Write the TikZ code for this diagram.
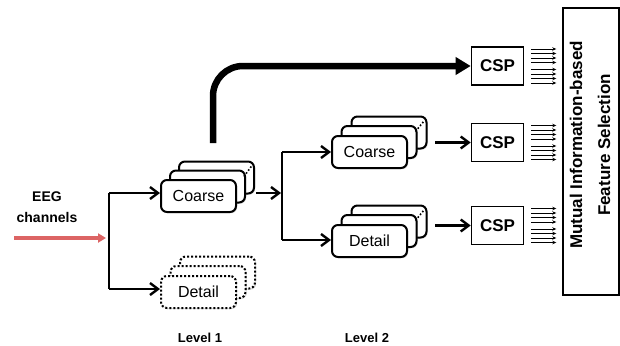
\documentclass[tikz,border=0pt]{standalone}
\usepackage{fontspec}
\setmainfont{Liberation Sans}
\usetikzlibrary{arrows.meta,shadows}
\begin{document}
\begin{tikzpicture}[x=1pt,y=-1pt,
  card/.style={draw=black,line width=2pt,rounded corners=6pt,fill=white,minimum width=75pt,minimum height=32pt,inner sep=0pt,font=\fontsize{16}{16}\selectfont,
    drop shadow={opacity=0.3,shadow xshift=1.2pt,shadow yshift=-1.2pt}},
  dcard/.style={card,dotted},
  cspbox/.style={draw=black,line width=1.6pt,fill=white,minimum width=52pt,minimum height=38pt,inner sep=0pt,font=\bfseries\fontsize{17}{17}\selectfont},
  conn/.style={line width=2.6pt,-{Straight Barb[length=8pt,width=12pt,line width=2.4pt]}},
  line/.style={line width=2.6pt},
  small/.style={line width=0.9pt,-{Stealth[length=4pt,width=3.5pt]}},
  lbl/.style={font=\bfseries\fontsize{14}{21}\selectfont,align=center},
  lvl/.style={font=\bfseries\fontsize{13}{13}\selectfont},
  depth/.style={dotted,line width=1.6pt}
]
\useasboundingbox (0,0) rectangle (620,345);
\fill[white] (0,0) rectangle (620,345);

% texts
\node[lbl] (eeg) at (47,207) {EEG\\channels};
\node[lvl] (lv1) at (200,338) {Level 1};
\node[lvl] (lv2) at (367,338) {Level 2};

% red input arrow
\coordinate (rin) at (14,238);
\coordinate (j1) at (106,238);
\draw[line width=4.5pt,draw={rgb,255:red,220;green,100;blue,100},-{Triangle[length=8pt,width=9pt]}] (rin) -- (j1);

% Level 1 coarse stack
\node[card] (c1b) at (216.5,177.5) {};
\node[card] (c1m) at (207.5,186.5) {};
\node[card] (c1) at (198.5,196) {Coarse};
\draw[depth] ([xshift=-11pt,yshift=-16pt]c1b.north east) -- ([xshift=-3pt,yshift=-5pt]c1b.north east);

% Level 1 detail stack (dotted)
\node[dcard] (d1b) at (217.5,272.5) {};
\node[dcard] (d1m) at (208,282) {};
\node[dcard] (d1) at (198.5,292) {Detail};

% bracket level 1
\coordinate (b1t) at (109,193);
\coordinate (b1b) at (109,289);
\draw[line] (b1t) -- (b1b);
\draw[conn] (b1t) -- (c1.west |- b1t);
\draw[conn] (b1b) -- (d1.west |- b1b);

% Level 2
\node[card] (c2b) at (389,132.5) {};
\node[card] (c2m) at (379,142) {};
\node[card] (c2) at (369.5,152) {Coarse};
\draw[depth] ([xshift=-12pt,yshift=-16pt]c2b.north east) -- ([xshift=-3pt,yshift=-5pt]c2b.north east);

\node[card] (d2b) at (389,221.5) {};
\node[card] (d2m) at (379,231) {};
\node[card] (d2) at (369.5,241) {Detail};
\draw[depth] ([xshift=-12pt,yshift=-16pt]d2b.north east) -- ([xshift=-3pt,yshift=-5pt]d2b.north east);

\coordinate (s1) at (256,193);
\coordinate (j2) at (281,193);
\coordinate (b2t) at (282,152);
\coordinate (b2b) at (282,240);
\draw[conn] (s1) -- (j2);
\draw[line] (b2t) -- (b2b);
\draw[conn] (b2t) -- (c2.west);
\draw[conn] (b2b) -- (d2.west |- b2b);

% CSP boxes
\node[cspbox] (csp1) at (497.5,66) {CSP};
\node[cspbox] (csp2) at (497.5,142.5) {CSP};
\node[cspbox] (csp3) at (497.5,225.5) {CSP};

\coordinate (o2) at (435,142.5);
\coordinate (o3) at (435,225.5);
\draw[conn] (o2) -- (csp2.west);
\draw[conn] (o3) -- (csp3.west);

% thick arrow
\coordinate (tk) at (213,143);
\draw[line width=6.5pt,rounded corners=30pt,-{Triangle[length=15pt,width=17pt]}] (tk) -- (213,66) -- (csp1.west);

% big box
\node[draw=black,line width=1.6pt,minimum width=56pt,minimum height=287pt,inner sep=0pt] (mi) at (591,151.5) {};
\node[rotate=90,align=center,font=\bfseries\fontsize{17}{28}\selectfont] (mit) at (590,145) {Mutual Information-based\\Feature Selection};

% small arrows
\foreach \c in {csp1,csp2,csp3}{
  \foreach \d in {-17,-12.5,-8,-3.5,3.5,8,12.5,17}{
    \draw[small] ([xshift=7pt,yshift=-\d pt]\c.east) -- ([xshift=32pt,yshift=-\d pt]\c.east);
  }
}
\end{tikzpicture}
\end{document}
